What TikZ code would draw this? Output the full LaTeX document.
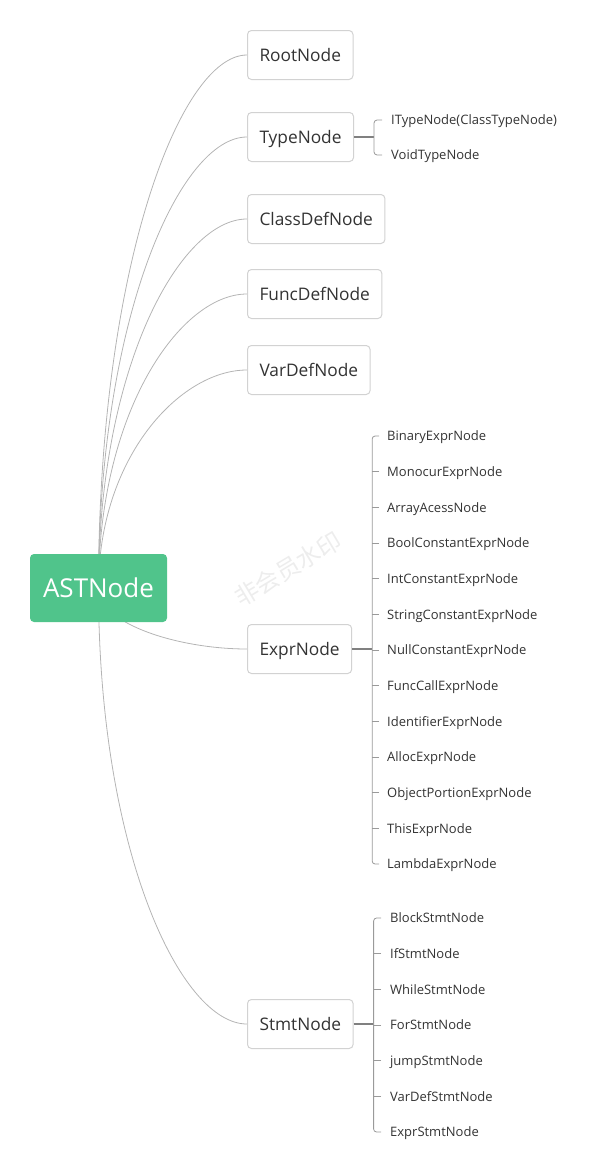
\documentclass[tikz,border=0pt]{standalone}
\usepackage{fontspec}
\setmainfont{Open Sans}
\newfontfamily\cjk{Noto Sans CJK SC}
\usetikzlibrary{calc, backgrounds}

\definecolor{astgreen}{HTML}{50C48B}
\definecolor{boxline}{HTML}{D2D2D2}
\definecolor{curvegray}{HTML}{B4B4B4}
\definecolor{brackgray}{HTML}{9A9A9A}
\definecolor{txtgray}{HTML}{333333}
\definecolor{wmgray}{HTML}{EDEDED}

\tikzset{
  box/.style={draw=boxline, line width=1pt, rounded corners=4pt, fill=white,
    anchor=west, minimum height=49pt, inner xsep=12pt, text=txtgray,
    text height=12.5pt, text depth=0pt, font=\fontsize{17.3}{17}\selectfont},
  leaf/.style={anchor=west, inner sep=0pt, text=txtgray, text depth=0pt,
    font=\fontsize{13}{13}\selectfont},
  branch/.style={draw=curvegray, line width=0.8pt,
    to path={.. controls ($(\tikztostart)!0.6!(\tikztostart|-\tikztotarget)$)
      and ($(\tikztotarget)!0.45!(\tikztotarget-|\tikztostart)$) .. (\tikztotarget)}},
  bracket/.style={draw=brackgray, line width=0.8pt, rounded corners=3pt},
  stem/.style={draw=gray, line width=1.6pt}
}

\begin{document}
\begin{tikzpicture}[x=1pt, y=-1pt]
\useasboundingbox (0,0) rectangle (602,1175);

% watermark
\node[rotate=31, inner sep=0pt, text=wmgray, font=\cjk\fontsize{24}{24}\selectfont] (wm) at (288,569) {非会员水印};

% root
\node[fill=astgreen, rounded corners=4pt, minimum width=137pt, minimum height=68pt,
  text=white, font=\fontsize{26}{26}\selectfont] (ast) at (98.5,588) {ASTNode};

% first level
\node[box] (root) at (247,55) {RootNode};
\node[box] (type) at (247,137) {TypeNode};
\node[box] (classdef) at (247,219) {ClassDefNode};
\node[box] (funcdef) at (247,294) {FuncDefNode};
\node[box] (vardef) at (247,370) {VarDefNode};
\node[box] (expr) at (247,649) {ExprNode};
\node[box] (stmt) at (247,1024) {StmtNode};

\begin{scope}[on background layer]
\foreach \n in {root,type,classdef,funcdef,vardef,expr,stmt}
  \draw[branch] (ast.center) to (\n.west);
\end{scope}

% TypeNode children
\node[leaf] (t1) at (391,120) {ITypeNode(ClassTypeNode)};
\node[leaf] (t2) at (391,155) {VoidTypeNode};
\coordinate (tj) at ($(type.east)+(20,0)$);
\draw[stem] (type.east) -- (tj);
\draw[bracket] ([xshift=-9pt]t1.west) -| (tj) |- ([xshift=-9pt]t2.west);

% ExprNode children
\foreach \name [count=\i] in {BinaryExprNode, MonocurExprNode, ArrayAcessNode,
    BoolConstantExprNode, IntConstantExprNode, StringConstantExprNode,
    NullConstantExprNode, FuncCallExprNode, IdentifierExprNode, AllocExprNode,
    ObjectPortionExprNode, ThisExprNode, LambdaExprNode}
  \node[leaf] (e\i) at (387,{436+35.67*(\i-1)}) {\name};
\coordinate (ej) at ($(expr.east)+(20,0)$);
\draw[stem] (expr.east) -- (ej);
\draw[bracket] ([xshift=-8pt]e1.west) -| (ej) |- ([xshift=-8pt]e13.west);
\foreach \i in {2,...,12}
  \draw[bracket] ([xshift=-8pt]e\i.west) -- (e\i.west -| ej);

% StmtNode children
\foreach \name [count=\i] in {BlockStmtNode, IfStmtNode, WhileStmtNode,
    ForStmtNode, jumpStmtNode, VarDefStmtNode, ExprStmtNode}
  \node[leaf] (s\i) at (390,{918+35.67*(\i-1)}) {\name};
\coordinate (sj) at ($(stmt.east)+(20,0)$);
\draw[stem] (stmt.east) -- (sj);
\draw[bracket] ([xshift=-9pt]s1.west) -| (sj) |- ([xshift=-9pt]s7.west);
\foreach \i in {2,...,6}
  \draw[bracket] ([xshift=-9pt]s\i.west) -- (s\i.west -| sj);

\end{tikzpicture}
\end{document}
